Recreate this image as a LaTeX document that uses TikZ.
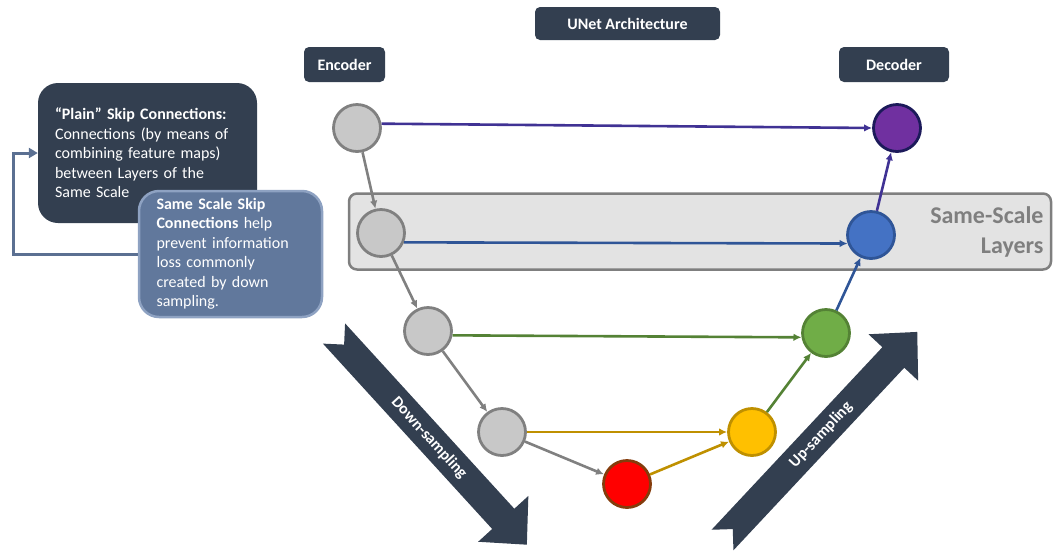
\documentclass[tikz,border=0pt]{standalone}
\usepackage{fontspec}
\setmainfont{Carlito}
\usetikzlibrary{arrows.meta}

\definecolor{navy}{HTML}{333F50}
\definecolor{skipfill}{HTML}{61789C}
\definecolor{skipedge}{HTML}{8EA2C2}
\definecolor{fbline}{HTML}{5B7092}
\definecolor{gryedge}{HTML}{808080}
\definecolor{gryfill}{HTML}{C8C8C8}
\definecolor{bandfill}{HTML}{E3E3E3}
\definecolor{bandedge}{HTML}{7F7F7F}
\definecolor{purfill}{HTML}{7030A0}
\definecolor{puredge}{HTML}{1C1A5A}
\definecolor{purline}{HTML}{403294}
\definecolor{blufill}{HTML}{4472C4}
\definecolor{bluedge}{HTML}{2F5597}
\definecolor{grnfill}{HTML}{70AD47}
\definecolor{grnedge}{HTML}{548235}
\definecolor{yelfill}{HTML}{FFC000}
\definecolor{yeledge}{HTML}{BF9000}
\definecolor{redfill}{HTML}{FF0000}
\definecolor{rededge}{HTML}{843C0C}

\tikzset{
  hdr/.style={fill=navy, rounded corners=5pt, text=white,
    font=\bfseries\fontsize{16}{19}\selectfont, inner sep=0pt},
  layer/.style={circle, minimum size=47pt, line width=2.8pt, inner sep=0pt},
  enc/.style={layer, draw=gryedge, fill=gryfill},
  link/.style={line width=2.6pt, -{Latex[length=8pt,width=7.5pt]}},
  bigarrow/.style={fill=navy},
  arrowtext/.style={text=white, font=\bfseries\fontsize{16}{19}\selectfont},
  notebox/.style={rounded corners=20pt, align=left, inner xsep=17pt,
    font=\fontsize{16}{19.5}\selectfont, text=white},
}

\begin{document}
\begin{tikzpicture}[x=1pt,y=-1pt]
\useasboundingbox (0,0) rectangle (1054,550);

% header labels
\node[hdr, minimum width=185pt, minimum height=33pt] (title) at (627.5,23.5) {UNet Architecture};
\node[hdr, minimum width=81pt, minimum height=35pt] (enclab) at (344.5,64.5) {Encoder};
\node[hdr, minimum width=110pt, minimum height=35pt] (declab) at (894,64.5) {Decoder};

% same-scale band
\node[fill=bandfill, draw=bandedge, line width=2.5pt, rounded corners=8pt,
      minimum width=702pt, minimum height=76pt] (band) at (700,231.5) {};
\node[anchor=east, align=right, text=bandedge,
      font=\bfseries\fontsize{24}{30}\selectfont] (bandlab) at (1047,232) {Same-Scale\\Layers};

% down-sampling arrow
\begin{scope}[shift={(334,333.5)}, rotate=-47.6]
  \fill[bigarrow] (0,-15) -- (251,-15) -- (251,-34) -- (286,0) -- (251,34) -- (251,15)
    -- (0,15) -- (15,0) -- cycle;
\end{scope}
\node[arrowtext, rotate=-47.6] (downlab) at (429,438) {Down-sampling};

% up-sampling arrow
\begin{scope}[shift={(722.5,540)}, rotate=46.9]
  \fill[bigarrow] (0,-15) -- (250,-15) -- (250,-34) -- (285,0) -- (250,34) -- (250,15)
    -- (0,15) -- (15,0) -- cycle;
\end{scope}
\node[arrowtext, rotate=46.9] (uplab) at (821,435) {Up-sampling};

% encoder layers
\node[enc] (e1) at (357,128) {};
\node[enc] (e2) at (381,233) {};
\node[enc] (e3) at (428,331) {};
\node[enc] (e4) at (502,432) {};
% bottleneck
\node[layer, draw=rededge, fill=redfill] (r) at (627,484) {};
% decoder layers
\node[layer, draw=yeledge, fill=yelfill] (d4) at (752,432) {};
\node[layer, draw=grnedge, fill=grnfill] (d3) at (826,333) {};
\node[layer, draw=bluedge, fill=blufill] (d2) at (871,235) {};
\node[layer, draw=puredge, fill=purfill] (d1) at (897,128) {};

% skip connections
\draw[link, purline] (e1.10) -- (d1.west);
\draw[link, bluedge] (e2.-22) -- (d2.200);
\draw[link, grnedge] (e3.-10) -- (d3.190);
\draw[link, yeledge] (e4) -- (d4);

% down path
\draw[link, gryedge] (e1) -- (e2);
\draw[link, gryedge] (e2) -- (e3);
\draw[link, gryedge] (e3) -- (e4);
\draw[link, gryedge] (e4) -- (r);

% up path
\draw[link, yeledge] (r) -- (d4);
\draw[link, grnedge] (d4) -- (d3);
\draw[link, bluedge] (d3) -- (d2);
\draw[link, purline] (d2) -- (d1);

% explanation boxes
\node[notebox, fill=navy, text width=185pt, minimum width=219pt, minimum height=140pt]
  (plain) at (147.5,153) {{\bfseries “Plain” Skip Connections:}\\Connections (by means of\\combining feature maps)\\between Layers of the\\Same Scale};
\node[notebox, fill=skipfill, draw=skipedge, line width=2.5pt, text width=148pt,
      minimum width=183pt, minimum height=126pt]
  (ssk) at (230.5,254) {{\bfseries Same Scale Skip}\\{\bfseries Connections} help\\prevent information\\loss commonly\\created by down\\sampling.};

% feedback from same-scale note to plain note
\draw[fbline, line width=3pt, -{Triangle[length=9pt,width=10pt]}]
  (ssk.west) -| ([xshift=-24pt]plain.west) -- (plain.west);
\end{tikzpicture}
\end{document}
